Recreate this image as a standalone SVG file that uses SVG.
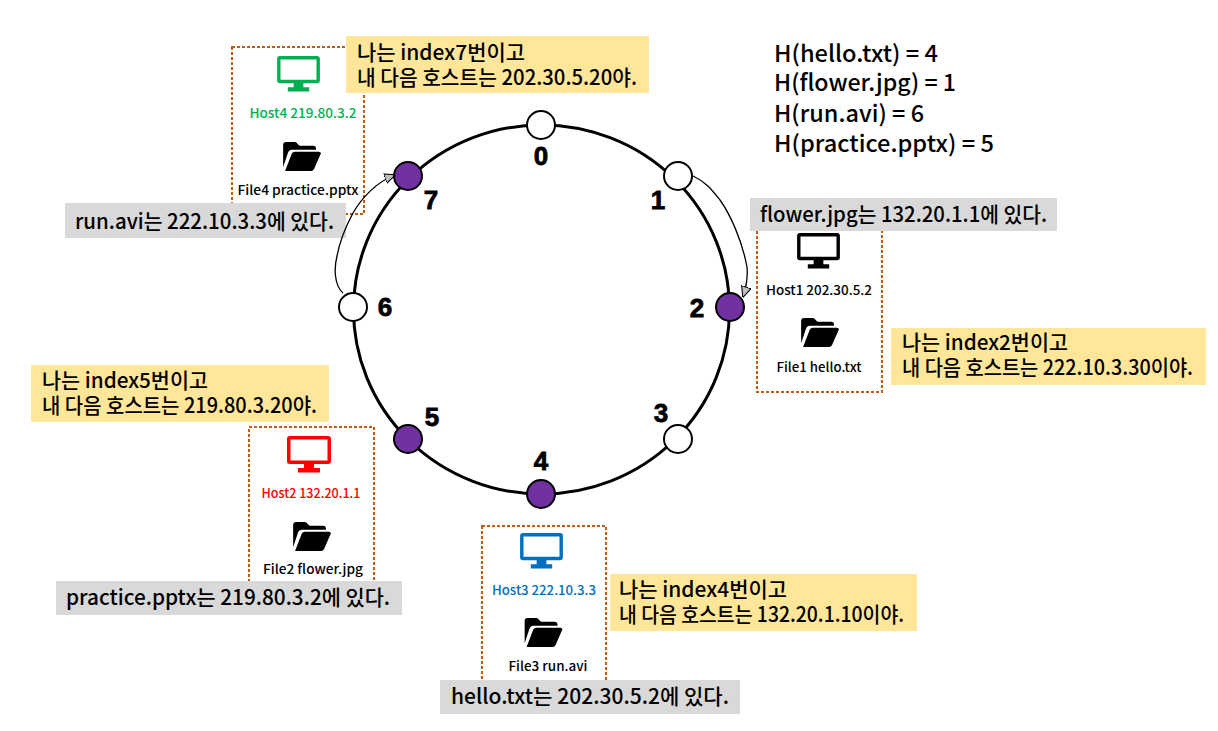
<svg xmlns="http://www.w3.org/2000/svg" width="1218" height="731" viewBox="0 0 1218 731">
<style>
text{font-family:"Noto Sans CJK KR","Noto Sans",sans-serif;fill:#000}
.box{fill:#fff;stroke:#c55a11;stroke-width:2;stroke-dasharray:3 2}
.y{fill:#ffe699}.g{fill:#d9d9d9}
.n{font-size:21px;font-weight:500}
.h{font-size:23px;font-weight:500}
.l{font-size:13px;font-weight:500;text-anchor:middle}
.i{font-size:26px;font-weight:900;font-family:"Liberation Sans",sans-serif;text-anchor:middle;stroke:#000;stroke-width:.8}
.e{fill:#fff;stroke:#000;stroke-width:2}
.p{fill:#7030a0;stroke:#000;stroke-width:2}
.c{fill:none;stroke:#000;stroke-width:1.3;marker-end:url(#a)}
</style>
<defs>
<marker id="a" viewBox="0 0 10 10" refX="9.500" refY="5" markerWidth="11" markerHeight="11" markerUnits="userSpaceOnUse" orient="auto"><path d="M0 .5L10 5L0 9.500Z" fill="#bfbfbf" stroke="#000" stroke-width="1"/></marker>
<symbol id="mon" viewBox="0 0 44 37"><path fill-rule="evenodd" d="M3 0H41Q44 0 44 3V25Q44 28 41 28H27V32H33V36.500H11V32H17V28H3Q0 28 0 25V3Q0 0 3 0ZM3.500 3.500V24.500H40.500V3.500Z"/></symbol>
<symbol id="fld" viewBox="0 0 40 30"><path d="M1 26V3Q1 0 4 0H13Q15 0 16 2L18 4H32Q35 4 35 7V8H10Q7 8 6 11L1 26Z"/><path d="M3 30L10 12Q11 10 13 10H38Q40 10 40 12L33 28Q32 30 30 30Z"/></symbol>
</defs>

<g id="host4">
<rect class="box" x="232" y="47" width="132" height="167"/>
<use href="#mon" x="277" y="56" width="43" height="36" style="fill:#00b050"/>
<text class="l" x="303" y="118" style="fill:#00b050" textLength="107" lengthAdjust="spacingAndGlyphs">Host4 219.80.3.2</text>
<use href="#fld" x="282" y="142" width="39" height="29"/>
<text class="l" x="298" y="195" textLength="121" lengthAdjust="spacingAndGlyphs">File4 practice.pptx</text>
</g>
<g id="host1">
<rect class="box" x="757" y="225" width="125" height="167"/>
<use href="#mon" x="797" y="233" width="43" height="36"/>
<text class="l" x="819" y="295" textLength="106" lengthAdjust="spacingAndGlyphs">Host1 202.30.5.2</text>
<use href="#fld" x="799" y="318" width="41" height="29"/>
<text class="l" x="819" y="372" textLength="85" lengthAdjust="spacingAndGlyphs">File1 hello.txt</text>
</g>
<g id="host2">
<rect class="box" x="249" y="427" width="125" height="165"/>
<use href="#mon" x="287" y="436" width="44" height="37" style="fill:#f00"/>
<text class="l" x="311" y="498" style="fill:#f00" textLength="99" lengthAdjust="spacingAndGlyphs">Host2 132.20.1.1</text>
<use href="#fld" x="292" y="522" width="39" height="29"/>
<text class="l" x="313" y="574" textLength="100" lengthAdjust="spacingAndGlyphs">File2 flower.jpg</text>
</g>
<g id="host3">
<rect class="box" x="482" y="526" width="124" height="160"/>
<use href="#mon" x="520" y="533" width="43" height="36" style="fill:#0070c0"/>
<text class="l" x="544" y="595" style="fill:#0070c0" textLength="104" lengthAdjust="spacingAndGlyphs">Host3 222.10.3.3</text>
<use href="#fld" x="523" y="618" width="40" height="29"/>
<text class="l" x="548" y="671" textLength="79" lengthAdjust="spacingAndGlyphs">File3 run.avi</text>
</g>

<g id="notes">
<rect class="y" x="346" y="36" width="303" height="57"/>
<text class="n"><tspan x="357" y="60" textLength="168" lengthAdjust="spacingAndGlyphs">나는 index7번이고</tspan><tspan x="357" y="85" textLength="280" lengthAdjust="spacingAndGlyphs">내 다음 호스트는 202.30.5.20야.</tspan></text>
<rect class="y" x="891" y="328" width="315" height="57"/>
<text class="n"><tspan x="902" y="350" textLength="166" lengthAdjust="spacingAndGlyphs">나는 index2번이고</tspan><tspan x="902" y="375" textLength="291" lengthAdjust="spacingAndGlyphs">내 다음 호스트는 222.10.3.30이야.</tspan></text>
<rect class="y" x="31" y="365" width="298" height="57"/>
<text class="n"><tspan x="42" y="388" textLength="166" lengthAdjust="spacingAndGlyphs">나는 index5번이고</tspan><tspan x="42" y="413" textLength="275" lengthAdjust="spacingAndGlyphs">내 다음 호스트는 219.80.3.20야.</tspan></text>
<rect class="y" x="610" y="574" width="307" height="57"/>
<text class="n"><tspan x="619" y="597" textLength="168" lengthAdjust="spacingAndGlyphs">나는 index4번이고</tspan><tspan x="619" y="622" textLength="285" lengthAdjust="spacingAndGlyphs">내 다음 호스트는 132.20.1.10이야.</tspan></text>
<rect class="g" x="65" y="203" width="281" height="35"/>
<text class="n" x="75" y="229" textLength="259" lengthAdjust="spacingAndGlyphs">run.avi는 222.10.3.3에 있다.</text>
<rect class="g" x="750" y="198" width="307" height="33"/>
<text class="n" x="760" y="222" textLength="287" lengthAdjust="spacingAndGlyphs">flower.jpg는 132.20.1.1에 있다.</text>
<rect class="g" x="56" y="581" width="346" height="34"/>
<text class="n" x="66" y="605" textLength="324" lengthAdjust="spacingAndGlyphs">practice.pptx는 219.80.3.2에 있다.</text>
<rect class="g" x="440" y="680" width="300" height="34"/>
<text class="n" x="451" y="704" textLength="278" lengthAdjust="spacingAndGlyphs">hello.txt는 202.30.5.2에 있다.</text>
</g>

<g id="connectors">
<ellipse cx="541.500" cy="309.500" rx="188" ry="184.500" fill="none" stroke="#000" stroke-width="3"/>
<path class="c" d="M693 176C706 182 712 190 720 200C730 214 742 240 747 267C748 278 746 288 743 297"/>
<path class="c" d="M343 293C334 285 334 268 337 256C340 240 346 226 353 213C361 199 376 182 395 175"/>
</g>

<g id="ring-nodes">
<circle class="e" cx="541" cy="125" r="14"/>
<circle class="e" cx="678" cy="176" r="14"/>
<circle class="p" cx="730" cy="307" r="14"/>
<circle class="e" cx="678" cy="439" r="14"/>
<circle class="p" cx="541" cy="494" r="14"/>
<circle class="p" cx="408" cy="439" r="14"/>
<circle class="e" cx="353" cy="307" r="14"/>
<circle class="p" cx="408" cy="176" r="14"/>
<text class="i" x="541" y="165">0</text>
<text class="i" x="658" y="209">1</text>
<text class="i" x="697" y="317">2</text>
<text class="i" x="661" y="422">3</text>
<text class="i" x="541" y="470">4</text>
<text class="i" x="432" y="426">5</text>
<text class="i" x="385" y="316">6</text>
<text class="i" x="431" y="209">7</text>
</g>

<g id="hashes">
<text class="h"><tspan x="774" y="62" textLength="164" lengthAdjust="spacingAndGlyphs">H(hello.txt) = 4</tspan><tspan x="774" y="91" textLength="182" lengthAdjust="spacingAndGlyphs">H(flower.jpg) = 1</tspan><tspan x="774" y="122" textLength="150" lengthAdjust="spacingAndGlyphs">H(run.avi) = 6</tspan><tspan x="774" y="152" textLength="220" lengthAdjust="spacingAndGlyphs">H(practice.pptx) = 5</tspan></text>
</g>
</svg>
